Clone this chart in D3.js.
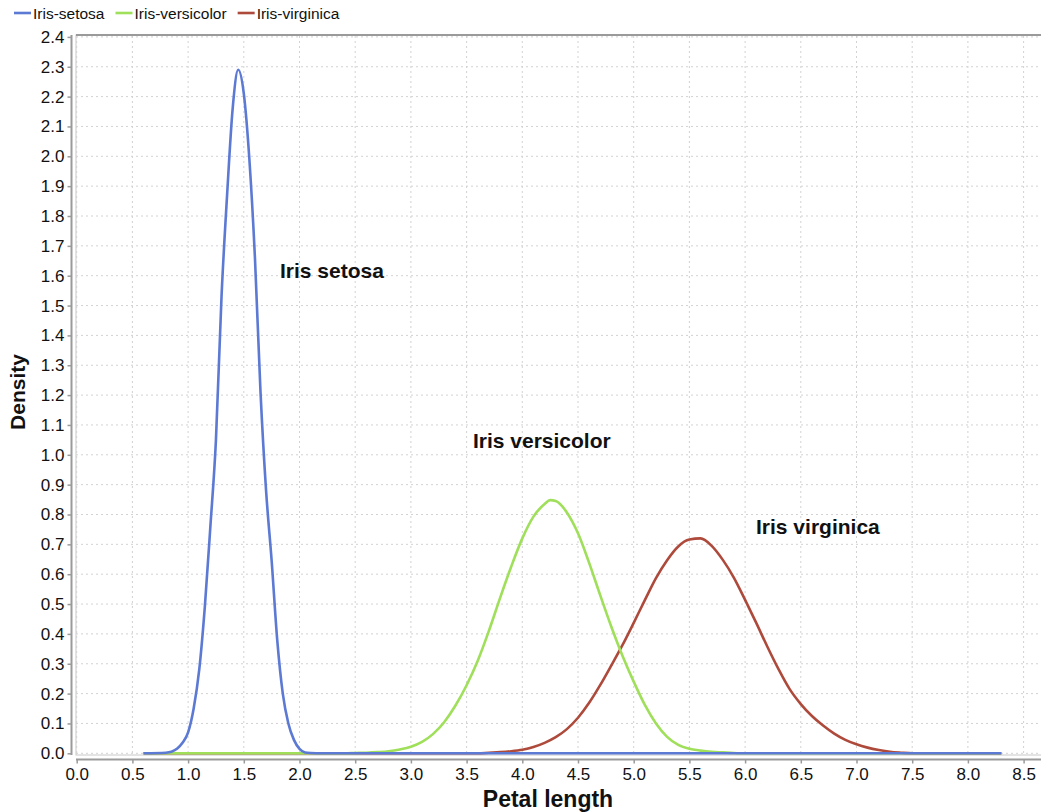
<!DOCTYPE html>
<html>
<head>
<meta charset="utf-8">
<script src="https://cdn.jsdelivr.net/npm/d3@7"></script>
<style>
  html, body { margin: 0; padding: 0; background: #fff; }
  svg { display: block; font-family: "Liberation Sans", Arial, Helvetica, sans-serif; }
</style>
</head>
<body>
<svg id="chart" width="1041" height="812"></svg>
<script>
// ---- data ----
const seriesNames = ["Iris-setosa", "Iris-versicolor", "Iris-virginica"];
const annotations = ["Iris setosa", "Iris versicolor", "Iris virginica"];

const setosaX = [0.6, 0.8, 0.85, 0.9, 0.95, 1.0, 1.05, 1.1, 1.15, 1.2, 1.25, 1.3, 1.35, 1.4, 1.45, 1.5, 1.55, 1.6, 1.65, 1.7, 1.75, 1.8, 1.85, 1.9, 1.95, 2.0, 2.05, 2.1, 2.2, 8.3];
const setosaY = [0, 0.002, 0.005, 0.015, 0.035, 0.07, 0.15, 0.28, 0.49, 0.76, 1.05, 1.53, 1.87, 2.16, 2.29, 2.21, 1.99, 1.66, 1.21, 0.88, 0.645, 0.38, 0.2, 0.1, 0.045, 0.015, 0.003, 0.001, 0, 0];

const versicolorX = [0.6, 2.4, 2.5, 2.6, 2.7, 2.8, 2.9, 3.0, 3.1, 3.2, 3.3, 3.4, 3.5, 3.6, 3.7, 3.8, 3.9, 4.0, 4.1, 4.2, 4.25, 4.3, 4.4, 4.5, 4.6, 4.7, 4.8, 4.9, 5.0, 5.1, 5.2, 5.3, 5.4, 5.5, 5.6, 5.7, 5.8, 5.9, 6.0, 8.3];
const versicolorY = [0, 0, 0.001, 0.002, 0.004, 0.007, 0.013, 0.022, 0.038, 0.065, 0.105, 0.16, 0.228, 0.31, 0.41, 0.52, 0.625, 0.72, 0.793, 0.835, 0.848, 0.845, 0.807, 0.737, 0.638, 0.529, 0.423, 0.326, 0.24, 0.162, 0.1, 0.055, 0.028, 0.015, 0.009, 0.005, 0.003, 0.001, 0, 0];

const virginicaX = [0.6, 3.6, 3.7, 3.8, 3.9, 4.0, 4.1, 4.2, 4.3, 4.4, 4.5, 4.6, 4.7, 4.8, 4.9, 5.0, 5.1, 5.2, 5.3, 5.4, 5.5, 5.6, 5.7, 5.8, 5.9, 6.0, 6.1, 6.2, 6.3, 6.4, 6.5, 6.6, 6.7, 6.8, 6.9, 7.0, 7.1, 7.2, 7.3, 7.4, 7.5, 8.3];
const virginicaY = [0, 0, 0.002, 0.004, 0.007, 0.012, 0.021, 0.035, 0.054, 0.081, 0.119, 0.169, 0.229, 0.295, 0.363, 0.437, 0.513, 0.587, 0.647, 0.693, 0.716, 0.72, 0.695, 0.648, 0.588, 0.514, 0.437, 0.357, 0.282, 0.215, 0.165, 0.125, 0.093, 0.066, 0.045, 0.03, 0.019, 0.011, 0.005, 0.002, 0, 0];

const xTicks = [0.0, 0.5, 1.0, 1.5, 2.0, 2.5, 3.0, 3.5, 4.0, 4.5, 5.0, 5.5, 6.0, 6.5, 7.0, 7.5, 8.0, 8.5];
const yTicks = [0.0, 0.1, 0.2, 0.3, 0.4, 0.5, 0.6, 0.7, 0.8, 0.9, 1.0, 1.1, 1.2, 1.3, 1.4, 1.5, 1.6, 1.7, 1.8, 1.9, 2.0, 2.1, 2.2, 2.3, 2.4];
const annotationPos = [[1.825, 1.592], [3.557, 1.023], [6.098, 0.733]];
const colors = ["#5c79d4", "#9fdf5a", "#ae4a3b"];

// ---- layout ----
const svg = d3.select("#chart");
const plotLeft = 76, plotRight = 1046, plotTop = 35, plotBottom = 755;
const x = d3.scaleLinear().domain([0, 8.5]).range([76.7, 1023.6]);
const y = d3.scaleLinear().domain([0, 2.4]).range([753.3, 36.9]);

// plot background / border
svg.append("rect").attr("x", plotLeft).attr("y", plotTop)
  .attr("width", plotRight - plotLeft).attr("height", plotBottom - plotTop)
  .attr("fill", "#fff").attr("stroke", "#c8c8c8").attr("stroke-width", 1);
svg.append("line").attr("x1", plotLeft).attr("x2", plotRight)
  .attr("y1", plotTop).attr("y2", plotTop).attr("stroke", "#9a9a9a").attr("stroke-width", 2);

// gridlines
const grid = svg.append("g");
grid.selectAll(".vg").data(xTicks).join("line")
  .attr("x1", d => x(d)).attr("x2", d => x(d))
  .attr("y1", plotTop + 1).attr("y2", plotBottom)
  .attr("stroke", "#d2d2d2").attr("stroke-width", 1).attr("stroke-dasharray", "2,3");
grid.selectAll(".hg").data(yTicks).join("line")
  .attr("x1", plotLeft).attr("x2", plotRight)
  .attr("y1", d => y(d)).attr("y2", d => y(d))
  .attr("stroke", "#d2d2d2").attr("stroke-width", 1).attr("stroke-dasharray", "2,3");

// axes
const fmt = d3.format(".1f");
const xAxis = svg.append("g").attr("transform", "translate(0,759.5)")
  .call(d3.axisBottom(x).tickValues(xTicks).tickFormat(fmt).tickSize(4).tickSizeOuter(0));
const yAxis = svg.append("g").attr("transform", "translate(71.5,0)")
  .call(d3.axisLeft(y).tickValues(yTicks).tickFormat(fmt).tickSize(4).tickSizeOuter(0));
[xAxis, yAxis].forEach(a => {
  a.select(".domain").attr("stroke", "#9a9a9a").attr("stroke-width", 2);
  a.selectAll(".tick line").attr("stroke", "#9a9a9a").attr("stroke-width", 1.5);
  a.selectAll(".tick text").attr("fill", "#111").attr("font-size", 17)
    .attr("font-family", "'Liberation Sans', Arial, sans-serif");
});
xAxis.select(".domain").attr("d", `M${plotLeft},0H${plotRight}`);
yAxis.select(".domain").attr("d", `M0,${plotTop}V${plotBottom}`);
xAxis.selectAll(".tick text").attr("dy", "0.85em").attr("y", 6);
yAxis.selectAll(".tick text").attr("x", -7);

// axis titles
svg.append("text").attr("x", 548).attr("y", 807).attr("text-anchor", "middle")
  .attr("font-weight", "bold").attr("font-size", 23).attr("fill", "#111").text("Petal length");
svg.append("text").attr("transform", "translate(25,392) rotate(-90)").attr("text-anchor", "middle")
  .attr("font-weight", "bold").attr("font-size", 21).attr("fill", "#111").text("Density");

// curves
const allX = [setosaX, versicolorX, virginicaX];
const allY = [setosaY, versicolorY, virginicaY];
const line = d3.line().x(d => x(d[0])).y(d => y(d[1])).curve(d3.curveMonotoneX);
svg.append("clipPath").attr("id", "plotclip").append("rect")
  .attr("x", plotLeft).attr("y", plotTop).attr("width", plotRight - plotLeft).attr("height", plotBottom - plotTop + 2);
const curves = svg.append("g").attr("clip-path", "url(#plotclip)");
[2, 1, 0].forEach(i => {
  const pts = allX[i].map((v, k) => [v, allY[i][k]]);
  curves.append("path").datum(pts).attr("d", line)
    .attr("fill", "none").attr("stroke", colors[i]).attr("stroke-width", 2.6)
    .attr("stroke-linejoin", "round");
});

// annotations
svg.selectAll(".ann").data(annotations).join("text")
  .attr("x", (d, i) => x(annotationPos[i][0]))
  .attr("y", (d, i) => y(annotationPos[i][1]))
  .attr("font-weight", "bold").attr("font-size", 21).attr("fill", "#111")
  .text(d => d);

// legend
const legend = svg.append("g");
let lx = 14;
seriesNames.forEach((name, i) => {
  legend.append("line").attr("x1", lx).attr("x2", lx + 17).attr("y1", 13).attr("y2", 13)
    .attr("stroke", colors[i]).attr("stroke-width", 2.6);
  const t = legend.append("text").attr("x", lx + 19).attr("y", 18.5)
    .attr("font-size", 15.5).attr("fill", "#111").text(name);
  lx += 19 + t.node().getComputedTextLength() + 11;
});
</script>
</body>
</html>
